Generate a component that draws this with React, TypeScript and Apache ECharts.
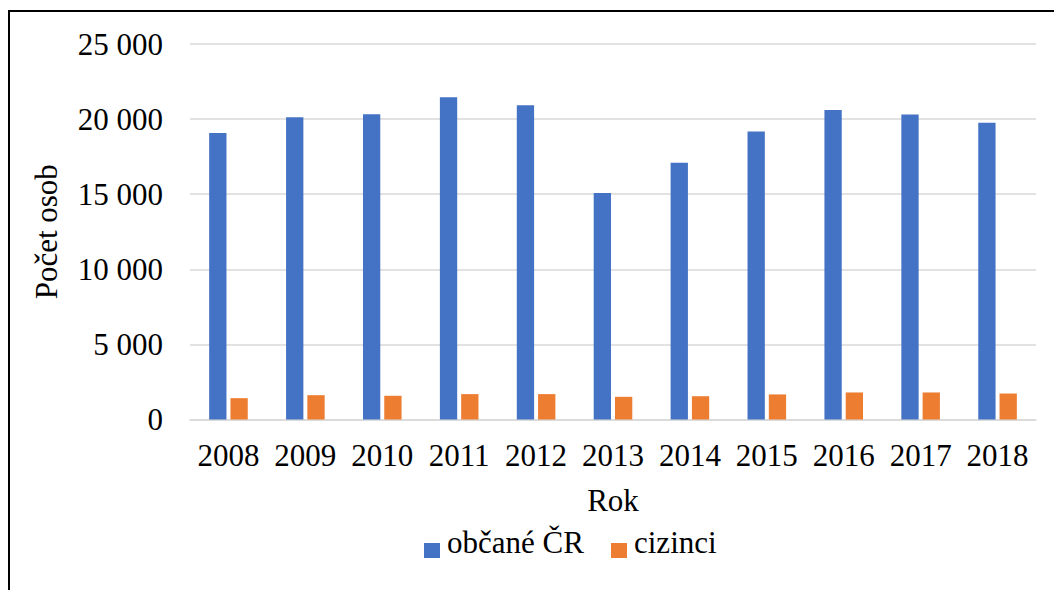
import React, { useEffect, useRef } from "react";
import * as echarts from "echarts";

const years = ["2008", "2009", "2010", "2011", "2012", "2013", "2014", "2015", "2016", "2017", "2018"];
const citizens = [19080, 20120, 20320, 21450, 20920, 15080, 17100, 19170, 20610, 20300, 19750];
const foreigners = [1420, 1620, 1580, 1690, 1690, 1510, 1550, 1670, 1800, 1800, 1730];
const seriesNames = ["občané ČR", "cizinci"];
const seriesColors = ["#4472C4", "#ED7D31"];
const yAxisTitle = "Počet osob";
const xAxisTitle = "Rok";

const FONT = "Liberation Serif";

function fmt(v: number): string {
  return String(v).replace(/\B(?=(\d{3})+(?!\d))/g, " ");
}

export default function App() {
  const ref = useRef<HTMLDivElement>(null);
  useEffect(() => {
    if (!ref.current) return;
    const chart = echarts.init(ref.current, null, { renderer: "svg" });
    const legendX = [424, 611];
    const legendRects = seriesNames.map((n, i) => ({
      type: "rect",
      shape: { x: legendX[i], y: 543, width: 16, height: 15 },
      style: { fill: seriesColors[i] },
      silent: true,
    }));
    const legendTitles = seriesNames.map((n, i) => ({
      text: n,
      left: legendX[i] + 18,
      top: 527,
      padding: [0, 0, 0, 5],
      textStyle: { fontFamily: FONT, fontSize: 31, fontWeight: "normal", color: "#000" },
    }));
    chart.setOption({
      animation: false,
      backgroundColor: "#ffffff",
      textStyle: { fontFamily: FONT, color: "#000" },
      title: legendTitles,
      grid: { left: 190, right: 18, top: 44, bottom: 170.5, containLabel: false },
      xAxis: {
        type: "category",
        data: years,
        name: xAxisTitle,
        nameLocation: "middle",
        nameGap: 65,
        nameTextStyle: { fontFamily: FONT, fontSize: 31, color: "#000" },
        axisLine: { show: true, lineStyle: { color: "#d9d9d9", width: 1.5 } },
        axisTick: { show: false },
        axisLabel: { fontFamily: FONT, fontSize: 31, color: "#000", margin: 20, interval: 0 },
      },
      yAxis: {
        type: "value",
        min: 0,
        max: 25000,
        interval: 5000,
        name: yAxisTitle,
        nameLocation: "middle",
        nameGap: 128,
        nameRotate: 90,
        nameTextStyle: { fontFamily: FONT, fontSize: 31, color: "#000" },
        axisLine: { show: false },
        axisTick: { show: false },
        splitLine: { lineStyle: { color: "#d9d9d9", width: 1.5 } },
        axisLabel: {
          fontFamily: FONT,
          fontSize: 31,
          color: "#000",
          margin: 27,
          formatter: (v: number) => fmt(v),
        },
      },
      series: [
        {
          name: seriesNames[0],
          type: "bar",
          data: citizens,
          barWidth: "22.5%",
          barGap: "23%",
          itemStyle: { color: seriesColors[0] },
        },
        {
          name: seriesNames[1],
          type: "bar",
          data: foreigners,
          barWidth: "22.5%",
          itemStyle: { color: seriesColors[1] },
        },
      ],
      graphic: [
        {
          type: "polyline",
          shape: { points: [[9, 700], [9, 11], [1100, 11]] },
          style: { stroke: "#000", lineWidth: 2, fill: null },
          silent: true,
        },
        ...legendRects,
      ],
    });
    return () => chart.dispose();
  }, []);
  return (
    <div
      ref={ref}
      style={{ position: "fixed", left: 0, top: 0, width: 1054, height: 590, background: "#fff" }}
    />
  );
}
